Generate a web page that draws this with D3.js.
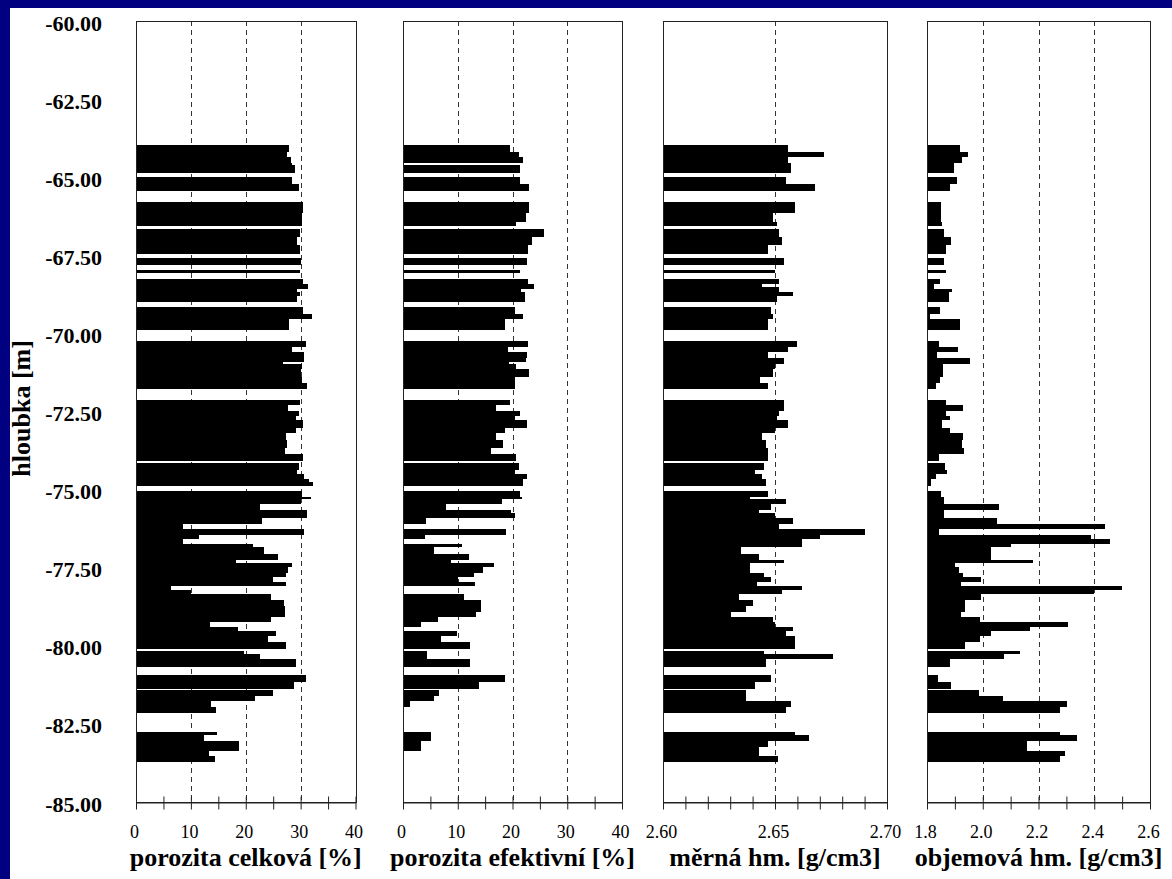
<!DOCTYPE html>
<html>
<head>
<meta charset="utf-8">
<script src="https://cdn.jsdelivr.net/npm/d3@7"></script>
<style>
  body { margin: 0; background: #000080; }
  svg { display: block; }
</style>
</head>
<body>
<div id="chart"></div>
<script>
// hloubky vzorku (horni a spodni hranice) [m]
var sampleTop = [-63.97,-64.19,-64.35,-64.56,-64.61, -65.00,-65.21, -65.79,-66.16,-66.44,
  -66.66,-66.90,-67.17, -67.58, -67.96, -68.27,-68.42,-68.50,-68.58,-68.69,-68.79,
  -69.17,-69.37,-69.55, -70.24,-70.42,-70.61,-70.79,-70.93,-70.99,-71.14,-71.41,-71.60,
  -72.13,-72.29,-72.47,-72.63,-72.77,-73.04,-73.20,-73.41,-73.68,-73.86,
  -74.16,-74.37,-74.50,-74.65,-74.77,
  -75.03,-75.23,-75.31,-75.46,-75.65,-75.76,-75.92,-76.10,-76.25,-76.45,-76.59,-76.74,
  -76.85,-77.06,-77.25,-77.36,-77.49,-77.66,-77.81,-77.95,-78.08,-78.21,-78.34,-78.53,
  -78.73,-78.91,-79.07,-79.23,-79.39,-79.52,-79.69,-79.87,
  -80.17,-80.26,-80.43, -80.93,-81.15, -81.41,-81.60,-81.77,-81.96,
  -82.75,-82.87,-83.04,-83.23,-83.37,-83.54];
var sampleBottom = [-64.19,-64.35,-64.56,-64.61,-64.88, -65.21,-65.43, -66.16,-66.44,-66.55,
  -66.90,-67.17,-67.47, -67.82, -68.06, -68.42,-68.50,-68.58,-68.69,-68.79,-69.01,
  -69.37,-69.55,-69.89, -70.42,-70.61,-70.79,-70.93,-70.99,-71.14,-71.41,-71.60,-71.78,
  -72.29,-72.47,-72.63,-72.77,-73.04,-73.20,-73.41,-73.68,-73.86,-74.08,
  -74.37,-74.50,-74.65,-74.77,-74.88,
  -75.23,-75.31,-75.46,-75.65,-75.76,-75.92,-76.10,-76.25,-76.45,-76.59,-76.74,-76.85,
  -77.06,-77.25,-77.36,-77.49,-77.66,-77.81,-77.95,-78.08,-78.21,-78.34,-78.53,-78.73,
  -78.91,-79.07,-79.23,-79.39,-79.52,-79.69,-79.87,-80.10,
  -80.26,-80.43,-80.69, -81.15,-81.39, -81.60,-81.77,-81.96,-82.16,
  -82.87,-83.04,-83.23,-83.37,-83.54,-83.71];

// porozita celkova [%]
var porozitaCelkova = [27.9,27.5,28.2,28.5,29.0, 28.5,29.7, 30.5,30.3,30.3,
  29.9,29.3,29.8, 30.0, 29.9, 30.5,31.4,31.4,29.4,29.9,29.4,
  30.5,32.1,27.9, 31.0,28.4,30.7,30.6,26.8,30.3,30.1,30.2,31.2,
  29.9,27.7,29.7,29.2,30.5,29.2,27.4,27.6,27.2,30.4,
  29.7,29.3,30.7,31.6,32.3,
  30.3,31.9,30.0,22.6,31.1,31.1,22.9,8.5,30.6,11.4,8.5,21.3,
  23.3,25.9,18.2,28.4,27.7,27.4,25.0,27.4,6.3,10.0,24.6,26.9,
  27.1,27.2,24.6,13.4,18.5,25.5,24.0,27.4,
  19.6,22.6,29.2, 31.0,28.8, 25.0,21.7,13.6,14.5,
  14.7,12.4,18.8,18.8,13.3,14.4];

// porozita efektivni [%] (null = nemereno)
var porozitaEfektivni = [19.6,21.1,22.0,null,21.3, 21.3,23.1, 23.1,22.5,20.7,
  25.7,23.6,22.8, 22.6, 21.3, 22.8,24.0,24.0,21.5,22.2,22.2,
  20.5,22.0,18.7, 22.8,19.1,22.6,22.4,19.3,20.7,23.1,20.4,20.4,
  19.6,17.0,21.3,20.5,22.6,18.7,17.0,18.3,16.0,20.7,
  21.1,20.4,22.6,22.0,22.0,
  21.3,21.7,18.1,7.8,19.8,20.4,4.2,null,18.9,4.0,null,10.8,
  5.6,12.1,8.7,16.6,14.7,12.9,10.1,13.2,null,null,11.2,14.2,
  14.2,13.4,6.4,3.2,null,9.8,6.9,12.3,
  4.3,4.3,12.3, 18.6,13.8, 6.6,5.6,1.2,null,
  5.1,5.1,3.2,3.2,null,null];

// merna hmotnost [g/cm3]
var mernaHm = [2.656,2.672,2.656,2.657,2.657, 2.655,2.668, 2.659,2.649,2.651,
  2.652,2.653,2.647, 2.654, 2.650, 2.652,2.644,2.652,2.652,2.658,2.651,
  2.648,2.649,2.647, 2.660,2.656,2.647,2.654,2.654,2.650,2.649,2.6435,2.647,
  2.654,2.654,2.652,2.651,2.656,2.650,2.644,2.646,2.647,2.647,
  2.645,2.641,2.644,2.646,2.646,
  2.647,2.639,2.655,2.648,2.643,2.650,2.658,2.652,2.690,2.670,2.662,2.662,
  2.635,2.643,2.654,2.639,2.639,2.645,2.648,2.642,2.662,2.653,2.634,2.640,
  2.637,2.6305,2.649,2.650,2.658,2.655,2.659,2.659,
  2.645,2.676,2.646, 2.648,2.641, 2.637,2.637,2.657,2.655,
  2.659,2.665,2.647,2.643,2.643,2.6515];

// objemova hmotnost [g/cm3]
var objemovaHm = [1.920,1.947,1.925,1.896,1.896, 1.908,1.881, 1.850,1.850,1.855,
  1.860,1.886,1.868, 1.860, 1.868, 1.845,1.824,1.824,1.890,1.878,1.878,
  1.845,1.812,1.920, 1.842,1.911,1.836,1.956,1.956,1.856,1.856,1.845,1.834,
  1.868,1.929,1.868,1.881,1.855,1.881,1.929,1.925,1.933,1.842,
  1.863,1.872,1.832,1.816,1.816,
  1.850,1.862,1.862,2.060,1.860,1.860,2.050,2.440,1.842,2.390,2.455,2.103,
  2.030,2.030,2.181,1.900,1.916,1.929,1.995,1.923,2.498,2.399,1.995,1.938,
  1.938,1.923,1.989,2.307,2.171,2.030,1.989,1.938,
  2.133,2.075,1.881, 1.838,1.886, 1.986,2.073,2.303,2.277,
  2.277,2.337,2.159,2.159,2.294,2.277];

// popisky osy hloubky
var depthTicks = [-60, -62.5, -65, -67.5, -70, -72.5, -75, -77.5, -80, -82.5, -85];

var width = 1172, height = 879;
var plotTop = 21, plotBottom = 802;
var serif = "'Liberation Serif', 'Times New Roman', Times, serif";

var svg = d3.select("#chart").append("svg")
  .attr("width", width)
  .attr("height", height);

// modre pozadi + bila plocha
svg.append("rect").attr("width", width).attr("height", height).attr("fill", "#000080");
svg.append("rect").attr("x", 10).attr("y", 8)
  .attr("width", width - 10).attr("height", height - 8).attr("fill", "#fff");

var y = d3.scaleLinear().domain([-60, -85]).range([plotTop, plotBottom]);

function steps(a, b, n) {
  var out = [];
  for (var i = 0; i <= n; i++) out.push(+(a + (b - a) * i / n).toFixed(3));
  return out;
}

var panels = [
  { values: porozitaCelkova, domain: [0, 40], range: [136, 355.5],
    ticks: steps(0, 40, 8), labels: [0, 10, 20, 30, 40], grid: [10, 20, 30],
    fmt: d3.format("d"), title: "porozita celková [%]" },
  { values: porozitaEfektivni, domain: [0, 40], range: [403, 622],
    ticks: steps(0, 40, 8), labels: [0, 10, 20, 30, 40], grid: [10, 20, 30],
    fmt: d3.format("d"), title: "porozita efektivní [%]" },
  { values: mernaHm, domain: [2.60, 2.70], range: [663, 887],
    ticks: steps(2.60, 2.70, 10), labels: [2.60, 2.65, 2.70], grid: [2.65],
    fmt: d3.format(".2f"), title: "měrná hm. [g/cm3]" },
  { values: objemovaHm, domain: [1.8, 2.6], range: [927, 1150],
    ticks: steps(1.8, 2.6, 8), labels: [1.8, 2.0, 2.2, 2.4, 2.6], grid: [2.0, 2.2, 2.4],
    fmt: d3.format(".1f"), title: "objemová hm. [g/cm3]" }
];

var samples = sampleTop.map(function(t, i) { return { top: t, bottom: sampleBottom[i], i: i }; });

panels.forEach(function(p) {
  var x = d3.scaleLinear().domain(p.domain).range(p.range);
  var g = svg.append("g");

  // carkovana mrizka
  g.selectAll(".grid").data(p.grid).enter().append("line")
    .attr("x1", function(d) { return Math.round(x(d)) + 0.5; })
    .attr("x2", function(d) { return Math.round(x(d)) + 0.5; })
    .attr("y1", plotTop).attr("y2", plotBottom)
    .attr("stroke", "#333").attr("stroke-dasharray", "5,4");

  // sloupce
  g.selectAll(".bar").data(samples.filter(function(s) { return p.values[s.i] != null; }))
    .enter().append("rect")
    .attr("x", x(p.domain[0]))
    .attr("y", function(s) { return y(s.top); })
    .attr("width", function(s) { return x(p.values[s.i]) - x(p.domain[0]); })
    .attr("height", function(s) { return y(s.bottom) - y(s.top); })
    .attr("fill", "#000")
    .attr("shape-rendering", "crispEdges");

  // ramecek
  g.append("rect")
    .attr("x", Math.round(p.range[0]) + 0.5).attr("y", plotTop + 0.5)
    .attr("width", Math.round(p.range[1]) - Math.round(p.range[0]))
    .attr("height", plotBottom - plotTop)
    .attr("fill", "none").attr("stroke", "#222");

  // osa x
  var axis = d3.axisBottom(x).tickValues(p.ticks).tickSizeOuter(0)
    .tickFormat(function(d) { return p.labels.some(function(l) { return Math.abs(l - d) < 1e-6; }) ? p.fmt(d) : ""; });
  var ax = g.append("g").attr("transform", "translate(0," + (plotBottom + 0.5) + ")").call(axis);
  ax.select(".domain").attr("stroke", "#222");
  ax.selectAll(".tick line").attr("stroke", "#222").attr("y1", -6).attr("y2", 7);
  ax.selectAll(".tick text")
    .attr("y", 35).attr("dy", null).attr("dx", -2)
    .attr("fill", "#000")
    .style("font-family", serif).style("font-size", "18px");

  // nazev osy
  g.append("text")
    .attr("x", (p.range[0] + p.range[1]) / 2)
    .attr("y", 866)
    .attr("text-anchor", "middle")
    .style("font-family", serif).style("font-size", "26px").style("font-weight", "bold")
    .text(p.title);
});

// popisky hloubky
svg.selectAll(".ylab").data(depthTicks).enter().append("text")
  .attr("x", 102)
  .attr("y", function(d) { return y(d) + 2; })
  .attr("text-anchor", "end")
  .attr("dominant-baseline", "central")
  .style("font-family", serif).style("font-size", "22px").style("font-weight", "bold")
  .text(function(d) { return d3.format(".2f")(d).replace("−", "-"); });

svg.append("text")
  .attr("transform", "translate(30," + y(-72.4) + ") rotate(-90)")
  .attr("text-anchor", "middle")
  .style("font-family", serif).style("font-size", "26px").style("font-weight", "bold")
  .text("hloubka [m]");
</script>
</body>
</html>
